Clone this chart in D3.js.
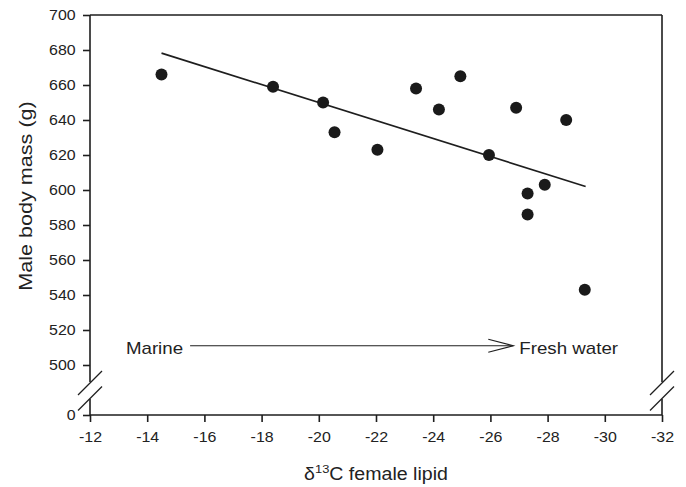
<!DOCTYPE html>
<html>
<head>
<meta charset="utf-8">
<script src="https://cdn.jsdelivr.net/npm/d3@7"></script>
<style>
  body { margin: 0; background: #fff; }
  text { font-family: "Liberation Sans", Arial, sans-serif; fill: #222; }
</style>
</head>
<body>
<div id="chart"></div>
<script>
// carbon isotope of female lipid vs male body mass
const d13C = [-14.5, -18.4, -20.15, -20.55, -22.05, -23.4, -24.2, -24.95, -25.95, -26.9, -27.3, -27.3, -27.9, -28.65, -29.3];
const maleMass = [666, 659, 650, 633, 623, 658, 646, 665, 620, 647, 598, 586, 603, 640, 543];

// fitted line
const fitX = [-14.5, -29.33];
const fitY = [678.2, 602];

const xTicks = [-12, -14, -16, -18, -20, -22, -24, -26, -28, -30, -32];
const yTicks = [0, 500, 520, 540, 560, 580, 600, 620, 640, 660, 680, 700];

// annotation arrow (data units)
const arrowX = [-15.5, -26.8];
const arrowY = 511;

const width = 686, height = 487;
const mLeft = 90, mRight = 662, mTop = 15, mBottom = 415;
const stretch = 1.1;

const x = d3.scaleLinear().domain([-12, -32]).range([mLeft, mRight]);
// broken axis: 0..500 squeezed into a short segment
const y = d3.scaleLinear().domain([0, 500, 700]).range([mBottom, 365, mTop]);

const svg = d3.create("svg")
    .attr("width", width)
    .attr("height", height);

const ink = "#1e1e1e";
const plain = d => String(d);

// axes
const yAxis = svg.append("g")
    .attr("transform", `translate(${mLeft},0)`)
    .call(d3.axisLeft(y).tickValues(yTicks).tickSize(7).tickPadding(6).tickFormat(plain));
yAxis.select(".domain").remove();
yAxis.selectAll("line").attr("stroke", ink).attr("stroke-width", 1.6);
yAxis.selectAll("text")
    .attr("font-size", 14.5)
    .attr("font-family", "Liberation Sans, Arial, sans-serif")
    .attr("fill", "#222")
    .attr("transform", `scale(${stretch},1)`);

const xAxis = svg.append("g")
    .attr("transform", `translate(0,${mBottom})`)
    .call(d3.axisBottom(x).tickValues(xTicks).tickSize(7).tickPadding(10).tickFormat(plain));
xAxis.select(".domain").remove();
xAxis.selectAll("line").attr("stroke", ink).attr("stroke-width", 1.6);
xAxis.selectAll("text")
    .attr("font-size", 14.5)
    .attr("font-family", "Liberation Sans, Arial, sans-serif")
    .attr("fill", "#222")
    .attr("transform", `scale(${stretch},1)`);

// frame with breaks
const gapTop = 382, gapBot = 399;
const frame = svg.append("g").attr("stroke", ink).attr("stroke-width", 1.6).attr("fill", "none");
frame.append("line").attr("x1", mLeft).attr("x2", mRight).attr("y1", mTop).attr("y2", mTop);
frame.append("line").attr("x1", mLeft).attr("x2", mRight).attr("y1", mBottom).attr("y2", mBottom);
[mLeft, mRight].forEach(px => {
    frame.append("line").attr("x1", px).attr("x2", px).attr("y1", mTop).attr("y2", gapTop);
    frame.append("line").attr("x1", px).attr("x2", px).attr("y1", gapBot).attr("y2", mBottom);
    [gapTop + 1, gapBot - 0.5].forEach(cy => {
        frame.append("line")
            .attr("stroke-width", 1.2)
            .attr("x1", px - 12).attr("y1", cy + 12)
            .attr("x2", px + 12).attr("y2", cy - 12);
    });
});

// regression line
svg.append("line")
    .attr("x1", x(fitX[0])).attr("y1", y(fitY[0]))
    .attr("x2", x(fitX[1])).attr("y2", y(fitY[1]))
    .attr("stroke", ink)
    .attr("stroke-width", 1.7);

// points
svg.append("g").selectAll("circle")
    .data(d13C.map((d, i) => [d, maleMass[i]]))
    .join("circle")
    .attr("cx", d => x(d[0]))
    .attr("cy", d => y(d[1]))
    .attr("r", 6)
    .attr("fill", "#1a1a1a");

// Marine -> Fresh water arrow
const ay = y(arrowY);
const ax1 = x(arrowX[1]);
svg.append("line")
    .attr("x1", x(arrowX[0])).attr("x2", ax1)
    .attr("y1", ay).attr("y2", ay)
    .attr("stroke", ink).attr("stroke-width", 1.1);
svg.append("path")
    .attr("d", `M${ax1 - 25},${ay - 6.5}L${ax1},${ay}L${ax1 - 25},${ay + 6.5}`)
    .attr("fill", "none").attr("stroke", ink).attr("stroke-width", 1.1);

svg.append("text")
    .attr("transform", `translate(${x(arrowX[0]) - 7},${ay + 8}) scale(1.17,1)`)
    .attr("text-anchor", "end")
    .attr("font-size", 16)
    .text("Marine");
svg.append("text")
    .attr("transform", `translate(${ax1 + 6},${ay + 8}) scale(1.17,1)`)
    .attr("font-size", 16)
    .text("Fresh water");

// axis titles
const xt = svg.append("text")
    .attr("transform", `translate(${(mLeft + mRight) / 2},480) scale(1.12,1)`)
    .attr("text-anchor", "middle")
    .attr("font-size", 17.5);
xt.append("tspan").text("δ");
xt.append("tspan").attr("font-size", 11.5).attr("dy", -7).text("13");
xt.append("tspan").attr("dy", 7).text("C female lipid");

svg.append("text")
    .attr("transform", `translate(32,196) rotate(-90) scale(1.2,1)`)
    .attr("text-anchor", "middle")
    .attr("font-size", 18)
    .text("Male body mass (g)");

document.getElementById("chart").appendChild(svg.node());
</script>
</body>
</html>
